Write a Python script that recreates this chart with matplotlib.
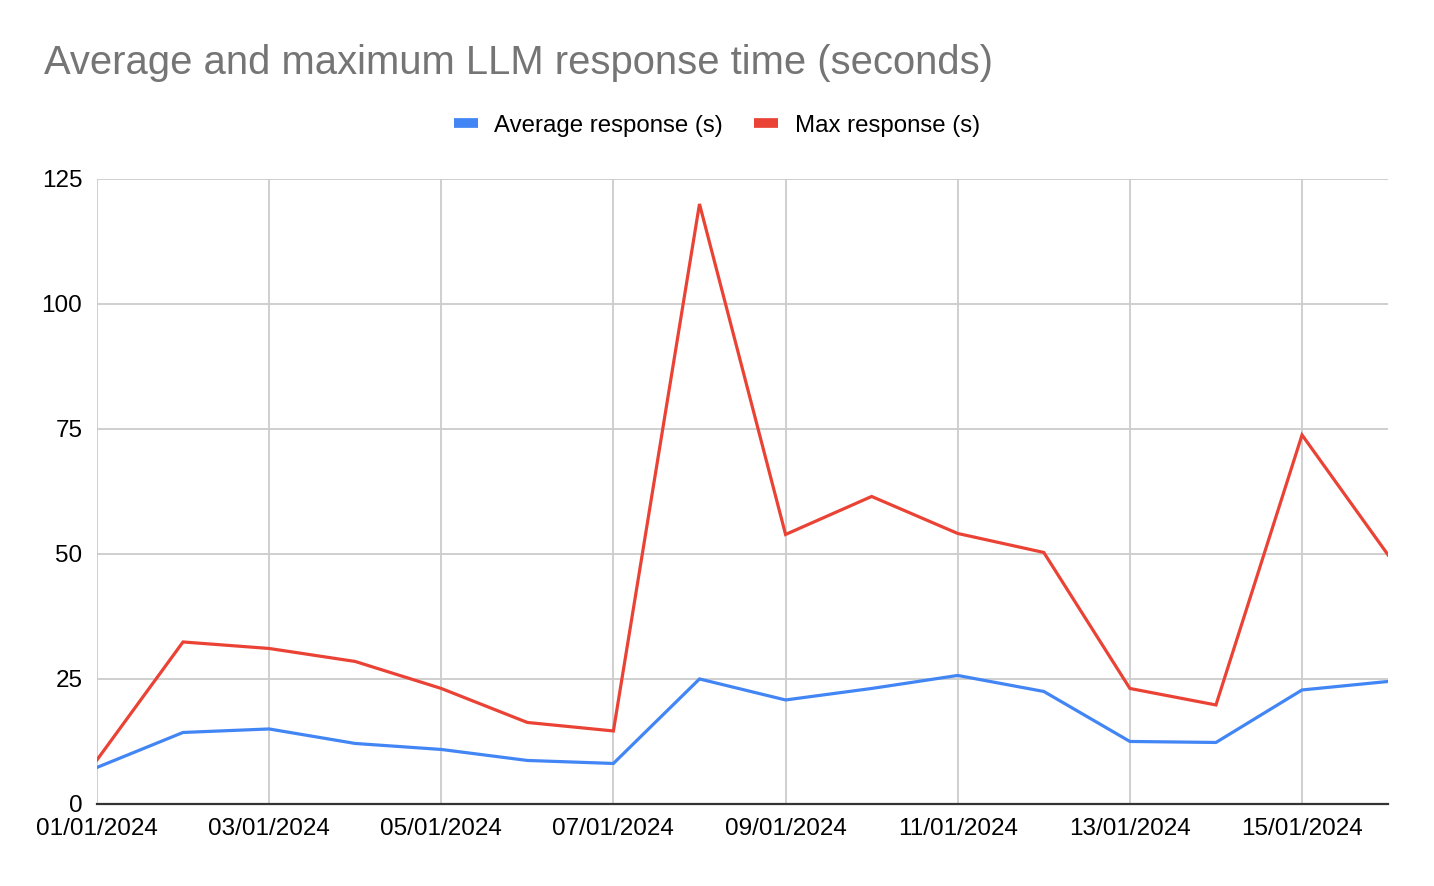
import numpy as np
import pandas as pd
from matplotlib import pyplot as plt
import matplotlib.dates as mdates
from matplotlib.lines import Line2D

plt.rcParams["font.family"] = ["Liberation Sans", "DejaVu Sans"]

dates = pd.date_range("2024-01-01", "2024-01-16", freq="D")
avg_response = [7.3, 14.3, 15.0, 12.1, 10.9, 8.7, 8.1, 25.0, 20.8, 23.1, 25.7, 22.5, 12.5, 12.3, 22.8, 24.5]
max_response = [8.8, 32.4, 31.1, 28.5, 23.1, 16.3, 14.6, 120.0, 53.9, 61.5, 54.1, 50.3, 23.1, 19.8, 73.8, 49.8]

avg_color = "#4285F4"
max_color = "#EA4335"

fig = plt.figure(figsize=(14.34, 8.86), dpi=100)
ax = fig.add_axes([0.0676, 0.0926, 0.9004, 0.7054])

ax.plot(dates, avg_response, color=avg_color, linewidth=2.3, solid_joinstyle="miter", zorder=3)
ax.plot(dates, max_response, color=max_color, linewidth=2.3, solid_joinstyle="miter", zorder=4)

ax.set_xlim(dates[0], dates[-1])
ax.set_ylim(0, 125)
ax.set_yticks([0, 25, 50, 75, 100, 125])
ax.set_xticks(dates[::2])
ax.xaxis.set_major_formatter(mdates.DateFormatter("%d/%m/%Y"))

ax.grid(True, color="#cccccc", linewidth=1.3)
ax.set_axisbelow(True)
for side in ["top", "right", "left"]:
    ax.spines[side].set_visible(False)
ax.spines["bottom"].set_color("#333333")
ax.spines["bottom"].set_linewidth(1.6)
ax.spines["bottom"].set_zorder(5)
ax.tick_params(axis="both", length=0, labelsize=17.5, colors="black")
ax.tick_params(axis="x", pad=10)
ax.tick_params(axis="y", pad=10.5)

fig.text(0.031, 0.929, "Average and maximum LLM response time (seconds)",
         fontsize=28.8, color="#757575", ha="left", va="center")

handles = [
    Line2D([0], [0], color=avg_color, linewidth=7, solid_capstyle="butt"),
    Line2D([0], [0], color=max_color, linewidth=7, solid_capstyle="butt"),
]
fig.legend(handles, ["Average response (s)", "Max response (s)"],
           loc="center", bbox_to_anchor=(0.5, 0.858), ncol=2, frameon=False,
           fontsize=17.3, handlelength=1.0, handletextpad=0.7, columnspacing=1.3)

fig.savefig("out.png", dpi=100)
